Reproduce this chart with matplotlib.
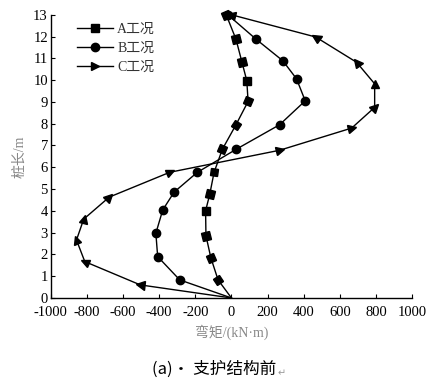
import numpy as np
import matplotlib
matplotlib.use("Agg")
import matplotlib.pyplot as plt
from matplotlib.markers import MarkerStyle
from matplotlib.transforms import Affine2D
from matplotlib.lines import Line2D

plt.rcParams['font.family'] = ['Liberation Serif', 'Noto Sans CJK SC', 'DejaVu Sans']
plt.rcParams['axes.unicode_minus'] = False

# 数据：自下而上 (桩长 m, 弯矩 kN·m)
depth_a = [0, 0.83, 1.85, 2.86, 4.0, 4.76, 5.77, 6.83, 7.95, 9.02, 9.97, 10.83, 11.88, 13]
moment_a = [0, -74, -114, -141, -143, -120, -96, -50, 25, 92, 85, 58, 25, -29]

depth_b = [0, 0.83, 1.90, 2.97, 4.04, 4.86, 5.76, 6.83, 7.95, 9.05, 10.06, 10.89, 11.88, 13]
moment_b = [0, -286, -408, -418, -380, -317, -190, 27, 266, 408, 360, 284, 136, -20]

depth_c = [0, 0.6, 1.67, 2.66, 3.62, 4.63, 5.77, 6.78, 7.8, 8.75, 9.83, 10.82, 11.98, 13]
moment_c = [0, -504, -811, -857, -817, -676, -341, 266, 665, 792, 792, 692, 466, 0]

labels = ['A工况', 'B工况', 'C工况']
xticks = list(range(-1000, 1001, 200))
yticks = list(range(0, 14))

fig = plt.figure(figsize=(4.29, 3.89), dpi=100)
ax = fig.add_axes([0.118, 0.234, 0.843, 0.728])
ax.set_xlim(-1000, 1000)
ax.set_ylim(0, 13)

def draw(xs, ys, marker, size, rotate):
    ax.plot(xs, ys, color='k', lw=1.0, zorder=2)
    pts = ax.transData.transform(np.column_stack([xs, ys]))
    for i in range(1, len(xs)):
        ang = 0
        if rotate:
            d = pts[i] - pts[i - 1]
            ang = np.degrees(np.arctan2(d[1], d[0]))
        m = MarkerStyle(marker, transform=Affine2D().rotate_deg(ang))
        ax.plot(xs[i], ys[i], marker=m, ms=size, color='k', ls='none',
                clip_on=False, zorder=3)

draw(moment_a, depth_a, 's', 5.5, True)
draw(moment_b, depth_b, 'o', 6, False)
draw(moment_c, depth_c, '>', 6, True)

handles = [Line2D([], [], color='k', lw=1.0, marker=mk, ms=ms)
           for mk, ms in [('s', 5.5), ('o', 6), ('>', 6)]]
leg = ax.legend(handles, labels, loc='upper left', bbox_to_anchor=(0.05, 1.0),
                frameon=False, fontsize=10, handlelength=2.6, handletextpad=0.3,
                labelspacing=0.42, borderaxespad=0.2)
for t in leg.get_texts():
    t.set_color('#333333')

ax.set_xticks(xticks)
ax.set_yticks(yticks)
ax.tick_params(direction='in', length=3, width=0.8, labelsize=10.5)
ax.tick_params(axis='x', pad=6)
ax.tick_params(axis='y', pad=2)
for s in ['top', 'right']:
    ax.spines[s].set_visible(False)
for s in ['left', 'bottom']:
    ax.spines[s].set_linewidth(1.0)

ax.set_xlabel('弯矩/(kN·m)', fontsize=10, color='#888888', labelpad=4)
ax.set_ylabel('桩长/m', fontsize=10, color='#888888', labelpad=5)

cap = fig.text(0.5, 0.028, '(a)· 支护结构前', ha='center', va='bottom', fontsize=12,
               family=['Noto Sans CJK SC', 'DejaVu Sans'])
fig.canvas.draw()
bb = cap.get_window_extent()
fig.text((bb.x1 + 1) / fig.bbox.width, 0.028, '↵', ha='left', va='bottom',
         fontsize=7, color='#999999', family=['DejaVu Sans'])

fig.savefig('out.png', dpi=100)
